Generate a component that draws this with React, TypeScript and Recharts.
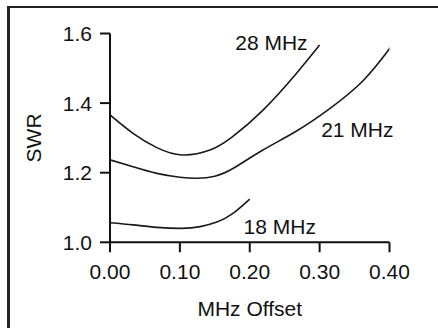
import React from "react";
import { LineChart, Line, XAxis, YAxis, ReferenceDot, Label } from "recharts";

const xTicks = [0, 0.1, 0.2, 0.3, 0.4];
const yTicks = [1.0, 1.2, 1.4, 1.6];

const swr28 = [
  { x: 0, y: 1.366 },
  { x: 0.033, y: 1.313 },
  { x: 0.067, y: 1.272 },
  { x: 0.103, y: 1.251 },
  { x: 0.143, y: 1.265 },
  { x: 0.175, y: 1.303 },
  { x: 0.219, y: 1.38 },
  { x: 0.267, y: 1.486 },
  { x: 0.3, y: 1.567 },
];

const swr21 = [
  { x: 0, y: 1.237 },
  { x: 0.033, y: 1.217 },
  { x: 0.067, y: 1.198 },
  { x: 0.1, y: 1.187 },
  { x: 0.125, y: 1.184 },
  { x: 0.15, y: 1.19 },
  { x: 0.176, y: 1.212 },
  { x: 0.217, y: 1.263 },
  { x: 0.267, y: 1.32 },
  { x: 0.315, y: 1.385 },
  { x: 0.3625, y: 1.465 },
  { x: 0.403, y: 1.564 },
];

const swr18 = [
  { x: 0, y: 1.056 },
  { x: 0.033, y: 1.05 },
  { x: 0.067, y: 1.043 },
  { x: 0.103, y: 1.04 },
  { x: 0.129, y: 1.045 },
  { x: 0.153, y: 1.058 },
  { x: 0.176, y: 1.083 },
  { x: 0.2, y: 1.124 },
];

const curveLabels = [
  { text: "28 MHz", x: 0.231, y: 1.573 },
  { text: "21 MHz", x: 0.354, y: 1.323 },
  { text: "18 MHz", x: 0.243, y: 1.044 },
];

const FONT = "'Liberation Sans', Arial, Helvetica, sans-serif";
const INK = "#111";

const YLabel = (props: any) => {
  const vb = props.viewBox || { x: 0, y: 0, width: 0, height: 0 };
  const cx = vb.x + 34;
  const cy = vb.y + vb.height / 2;
  return (
    <text
      x={cx}
      y={cy}
      transform={`rotate(-90 ${cx} ${cy})`}
      textAnchor="middle"
      dominantBaseline="central"
      fontSize={21}
      fill={INK}
      fontFamily={FONT}
    >
      SWR
    </text>
  );
};

const XLabel = (props: any) => {
  const vb = props.viewBox || { x: 0, y: 0, width: 0, height: 0 };
  return (
    <text
      x={vb.x + vb.width / 2}
      y={vb.y + vb.height}
      textAnchor="middle"
      fontSize={21}
      fill={INK}
      fontFamily={FONT}
    >
      MHz Offset
    </text>
  );
};

export default function App() {
  return (
    <div style={{ position: "absolute", left: 0, top: 0, width: 438, height: 328, overflow: "hidden", background: "#fff", fontFamily: FONT }}>
      <div
        style={{
          position: "absolute",
          left: 7,
          top: 6,
          width: 500,
          height: 400,
          borderTop: "2px solid #222",
          borderLeft: "3px solid #222",
        }}
      />
      <div style={{ position: "absolute", left: 0, top: 0 }}>
        <LineChart
          width={438}
          height={328}
          margin={{ top: 33.5, right: 48.5, bottom: 11.7, left: 0 }}
        >
          <XAxis
            type="number"
            dataKey="x"
            domain={[0, 0.4]}
            ticks={xTicks}
            allowDataOverflow
            tickFormatter={(v: number) => v.toFixed(2)}
            height={74}
            tickSize={10}
            tickMargin={12}
            axisLine={{ stroke: INK, strokeWidth: 2 }}
            tickLine={{ stroke: INK, strokeWidth: 2 }}
            tick={{ fontSize: 21, fill: INK, fontFamily: FONT }}
          >
            <Label content={XLabel} />
          </XAxis>
          <YAxis
            type="number"
            dataKey="y"
            domain={[1.0, 1.6]}
            ticks={yTicks}
            allowDataOverflow
            tickFormatter={(v: number) => v.toFixed(1)}
            width={110}
            tickSize={10}
            tickMargin={8}
            axisLine={{ stroke: INK, strokeWidth: 2 }}
            tickLine={{ stroke: INK, strokeWidth: 2 }}
            tick={{ fontSize: 21, fill: INK, fontFamily: FONT }}
          >
            <Label content={YLabel} />
          </YAxis>
          <Line data={swr28} dataKey="y" type="natural" stroke="#1a1a1a" strokeWidth={1.6} dot={false} isAnimationActive={false} />
          <Line data={swr21} dataKey="y" type="natural" stroke="#1a1a1a" strokeWidth={1.6} dot={false} isAnimationActive={false} />
          <Line data={swr18} dataKey="y" type="natural" stroke="#1a1a1a" strokeWidth={1.6} dot={false} isAnimationActive={false} />
          {curveLabels.map((c) => (
            <ReferenceDot
              key={c.text}
              x={c.x}
              y={c.y}
              r={0}
              fill="none"
              stroke="none"
              ifOverflow="visible"
              label={{ value: c.text, position: "center", fontSize: 21, fill: INK, fontFamily: FONT }}
            />
          ))}
        </LineChart>
      </div>
    </div>
  );
}
